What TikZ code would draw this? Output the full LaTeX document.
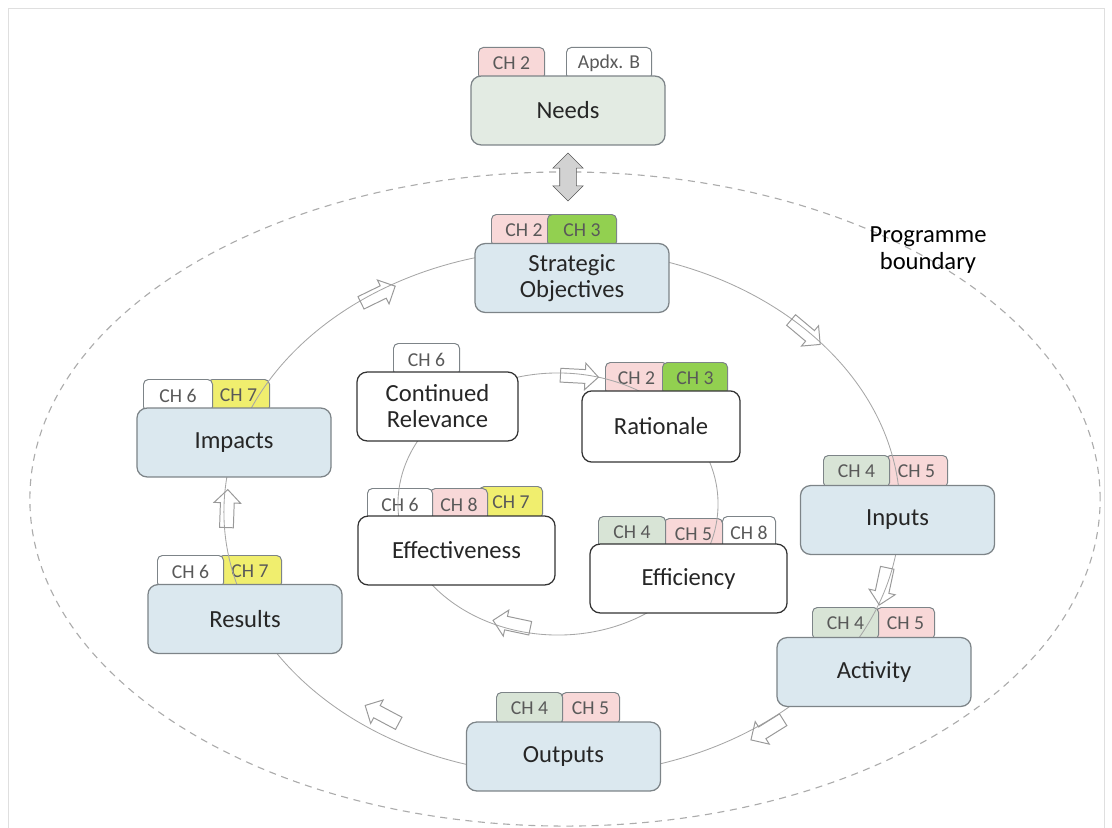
\documentclass[tikz,border=0pt]{standalone}
\usepackage{fontspec}
\setmainfont{Carlito}
\usetikzlibrary{shapes.arrows}

\definecolor{stageblue}{RGB}{219,232,239}
\definecolor{needsgreen}{RGB}{227,235,227}
\definecolor{tabpink}{RGB}{248,216,216}
\definecolor{tabgreen}{RGB}{146,208,80}
\definecolor{tabyellow}{RGB}{240,238,110}
\definecolor{tabsage}{RGB}{216,228,214}
\definecolor{edgegray}{RGB}{125,132,136}

\begin{document}
\begin{tikzpicture}[
  x=0.025cm, y=-0.025cm,
  stage/.style={rectangle, rounded corners=0.25cm, draw=edgegray, line width=0.9pt, fill=stageblue, minimum width=4.85cm, minimum height=1.72cm, align=center, text=black!85, font=\fontsize{17.5}{18.5}\selectfont},
  criterion/.style={stage, fill=white, draw=gray!40!black},
  tab/.style={rectangle, rounded corners=0.12cm, draw=edgegray, line width=0.7pt, anchor=north west, minimum width=#1, minimum height=0.8cm, inner sep=0pt, text=gray!70!black, font=\fontsize{14}{16}\selectfont},
  flow/.style={single arrow, draw=gray!80, line width=0.7pt, minimum height=0.95cm, inner xsep=0pt, inner ysep=0.16cm, single arrow head extend=0.16cm},
  loop/.style={draw=gray!70, line width=0.6pt}
]
  \useasboundingbox (0,0) rectangle (1112,828);
  \draw[gray!25] (8,828) -- (8,8) -- (1104,8) -- (1104,828);

  % programme boundary
  \coordinate (bound) at (565,499);
  \draw[gray!65, line width=0.8pt, dash pattern=on 5pt off 4pt] (bound) ellipse [x radius=13.375cm, y radius=8.175cm];
  \node[font=\fontsize{17.5}{19}\selectfont, align=center] (boundary) at (928,250) {Programme\\boundary};

  % chapter tabs
  \node[tab=1.65cm, fill=tabpink] (needs-ch2) at (478,47) {CH 2};
  \node[tab=2.125cm, fill=white] (needs-apdx) at (566,47) {Apdx. B};

  \node[tab=1.625cm, fill=tabpink] (obj-ch2) at (491,214) {CH 2};
  \node[tab=1.725cm, fill=tabgreen] (obj-ch3) at (547,214) {CH 3};

  \node[tab=1.55cm, fill=tabyellow] (imp-ch7) at (207,379) {CH 7};
  \node[tab=1.725cm, fill=white] (imp-ch6) at (143,379) {CH 6};

  \node[tab=1.575cm, fill=tabyellow] (res-ch7) at (218,555) {CH 7};
  \node[tab=1.65cm, fill=white] (res-ch6) at (157,555) {CH 6};

  \node[tab=1.55cm, fill=tabpink] (inp-ch5) at (885,455) {CH 5};
  \node[tab=1.65cm, fill=tabsage] (inp-ch4) at (823,455) {CH 4};

  \node[tab=1.45cm, fill=tabpink] (act-ch5) at (876,607) {CH 5};
  \node[tab=1.65cm, fill=tabsage] (act-ch4) at (812,607) {CH 4};

  \node[tab=1.45cm, fill=tabpink] (out-ch5) at (561,692) {CH 5};
  \node[tab=1.65cm, fill=tabsage] (out-ch4) at (496,692) {CH 4};

  \node[tab=1.65cm, fill=white] (rel-ch6) at (393,343) {CH 6};

  \node[tab=1.55cm, fill=tabpink] (rat-ch2) at (605,362) {CH 2};
  \node[tab=1.625cm, fill=tabgreen] (rat-ch3) at (662,362) {CH 3};

  \node[tab=1.575cm, fill=tabyellow] (eff-ch7) at (479,486) {CH 7};
  \node[tab=1.425cm, fill=tabpink] (eff-ch8) at (430,488) {CH 8};
  \node[tab=1.625cm, fill=white] (eff-ch6) at (367,488) {CH 6};

  \node[tab=1.325cm, fill=white] (effy-ch8) at (722,516) {CH 8};
  \node[tab=1.45cm, fill=tabpink] (effy-ch5) at (664,518) {CH 5};
  \node[tab=1.675cm, fill=tabsage] (effy-ch4) at (598,516) {CH 4};

  % the two cycles
  \coordinate (outer) at (562,512);
  \coordinate (inner) at (558,504);
  \draw[loop] (outer) ellipse [x radius=8.45cm, y radius=6.575cm];
  \draw[loop] (inner) ellipse [x radius=4cm, y radius=3.275cm];

  % stages
  \node[stage, fill=needsgreen] (needs) at (568,110.5) {Needs};
  \node[stage] (objectives) at (572,278) {Strategic\\Objectives};
  \node[stage] (inputs) at (897.5,520) {Inputs};
  \node[stage] (activity) at (874,672) {Activity};
  \node[stage] (outputs) at (563.5,756.5) {Outputs};
  \node[stage] (results) at (245,619) {Results};
  \node[stage] (impacts) at (234,442.5) {Impacts};

  % evaluation criteria
  \node[criterion, minimum width=4.025cm] (relevance) at (437.5,406.5) {Continued\\Relevance};
  \node[criterion, minimum width=3.95cm, minimum height=1.78cm] (rationale) at (661,426.5) {Rationale};
  \node[criterion, minimum width=4.925cm] (effectiveness) at (456.5,550.5) {Effectiveness};
  \node[criterion, minimum width=4.925cm] (efficiency) at (688.5,578.5) {Efficiency};

  % needs link
  \node[double arrow, draw=gray!70!black, fill=gray!35, rotate=90, minimum height=1.2cm, inner xsep=0pt, inner ysep=0.2cm, double arrow head extend=0.17cm] (link) at (568,177) {};

  % direction marks
  \node[flow, rotate=26] (toobj) at (375,296) {};
  \node[flow, rotate=-40] (toinp) at (803,330) {};
  \node[flow, rotate=-102] (toact) at (884,583) {};
  \node[flow, rotate=-148] (toout) at (770,728) {};
  \node[flow, rotate=152] (tores) at (385,716) {};
  \node[flow, rotate=88] (toimp) at (227,512) {};
  \node[flow, rotate=-3] (torat) at (576,376) {};
  \node[flow, rotate=168] (torel) at (515,625) {};
\end{tikzpicture}
\end{document}
